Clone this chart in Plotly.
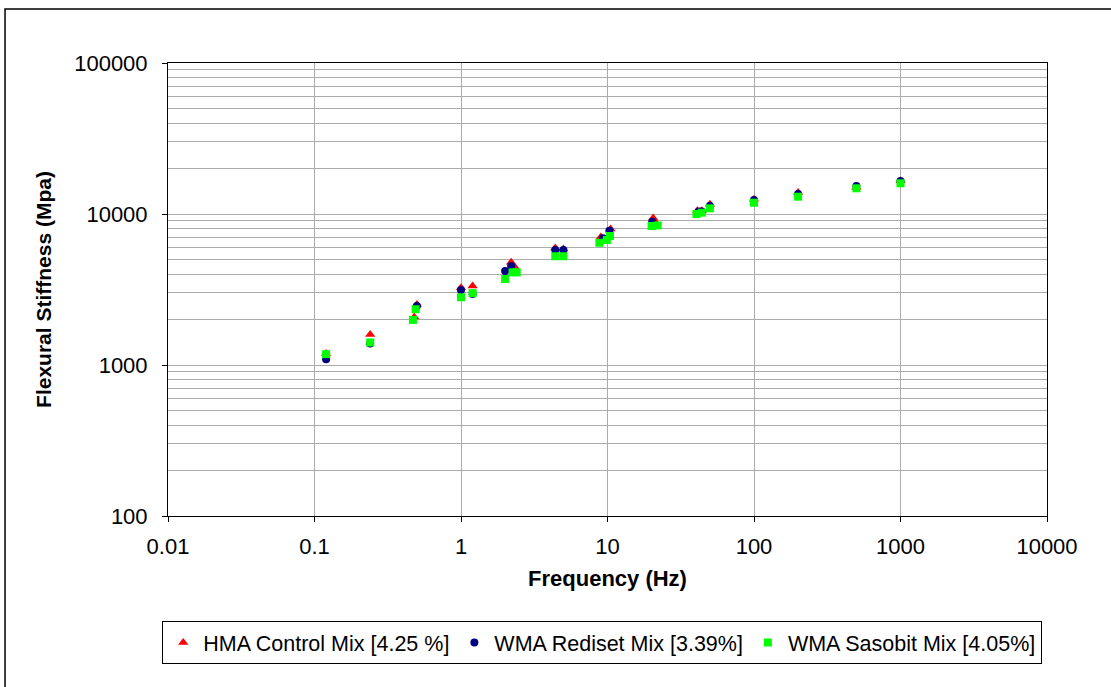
import plotly.graph_objects as go

# Data
freq_hma = [0.12, 0.24, 0.48, 0.5, 1.0, 1.2, 2.2, 2.35, 4.4, 5.0, 9.0, 10.5, 20.5, 21.5, 41, 44, 50, 100, 200, 500, 1000]
stiff_hma = [1190, 1590, 2080, 2520, 3250, 3340, 4800, 4400, 5950, 5870, 7040, 7960, 9400, 8700, 10500, 10500, 11600, 12500, 13900, 15000, 16600]

freq_red = [0.12, 0.24, 0.5, 1.0, 1.2, 2.0, 2.2, 4.4, 5.0, 9.3, 10.3, 20.2, 42, 44, 50, 100, 200, 500, 1000]
stiff_red = [1090, 1390, 2460, 3140, 2950, 4190, 4520, 5780, 5780, 6900, 7750, 8900, 10400, 10400, 11300, 12400, 13560, 15320, 16540]

freq_sas = [0.12, 0.24, 0.47, 0.49, 1.0, 1.2, 2.0, 2.25, 2.4, 4.4, 5.0, 8.8, 9.9, 10.4, 20, 22, 40.5, 44, 50, 100, 200, 500, 1000]
stiff_sas = [1180, 1410, 1990, 2340, 2810, 2990, 3710, 4110, 4110, 5250, 5250, 6450, 6730, 7150, 8330, 8400, 10000, 10200, 10900, 11880, 13020, 14800, 15970]

names = ["HMA Control Mix [4.25 %]", "WMA Rediset Mix [3.39%]", "WMA Sasobit Mix [4.05%]"]

x_tickvals = [0.01, 0.1, 1, 10, 100, 1000, 10000]
x_ticktext = ["0.01", "0.1", "1", "10", "100", "1000", "10000"]
y_tickvals = [100, 1000, 10000, 100000]
y_ticktext = ["100", "1000", "10000", "100000"]

FONT = "Liberation Sans, Arial, sans-serif"

fig = go.Figure()
fig.add_trace(go.Scatter(x=freq_hma, y=stiff_hma, mode="markers", name=names[0],
                         marker=dict(symbol="triangle-up", color="#ff0000", size=9)))
fig.add_trace(go.Scatter(x=freq_red, y=stiff_red, mode="markers", name=names[1],
                         marker=dict(symbol="circle", color="#000080", size=8)))
fig.add_trace(go.Scatter(x=freq_sas, y=stiff_sas, mode="markers", name=names[2],
                         marker=dict(symbol="square", color="#00ff00", size=8)))

minor_y = [k * 10 ** d for d in range(2, 5) for k in range(2, 10)]

fig.update_layout(
    width=1111, height=687,
    margin=dict(l=168, r=64, t=63, b=171),
    paper_bgcolor="white", plot_bgcolor="white",
    font=dict(family=FONT, size=22, color="black"),
    showlegend=True,
    legend=dict(orientation="h", x=0.494, xanchor="center", y=-0.232, yanchor="top",
                bordercolor="black", borderwidth=1, bgcolor="white",
                font=dict(family=FONT, size=21.5, color="black"),
                itemwidth=30, tracegroupgap=0),
    xaxis=dict(type="log", range=[-2, 4], tickvals=x_tickvals, ticktext=x_ticktext,
               showgrid=True, gridcolor="#ababab", gridwidth=1,
               showline=True, linecolor="black", linewidth=1, mirror=True,
               ticks="outside", ticklen=5, tickcolor="black", ticklabelstandoff=6,
               tickfont=dict(family=FONT, size=22),
               zeroline=False,
               title=dict(text="<b>Frequency (Hz)</b>", font=dict(family=FONT, size=22), standoff=12)),
    yaxis=dict(type="log", range=[2, 5], tickvals=y_tickvals, ticktext=y_ticktext,
               showgrid=True, gridcolor="#ababab", gridwidth=1,
               showline=True, linecolor="black", linewidth=1, mirror=True,
               ticks="outside", ticklen=5, tickcolor="black", ticklabelstandoff=10,
               tickfont=dict(family=FONT, size=22),
               zeroline=False,
               minor=dict(tickvals=minor_y, showgrid=True, gridcolor="#ababab", gridwidth=1, ticks=""),
               title=dict(text="<b>Flexural Stiffness (Mpa)</b>", font=dict(family=FONT, size=21), standoff=16)),
    shapes=[
        dict(type="path", xref="paper", yref="paper",
             path="M -0.1854,-0.5 L -0.1854,1.119 L 1.2,1.119",
             line=dict(color="black", width=1.5)),
    ],
)

fig.write_html("out.html")
